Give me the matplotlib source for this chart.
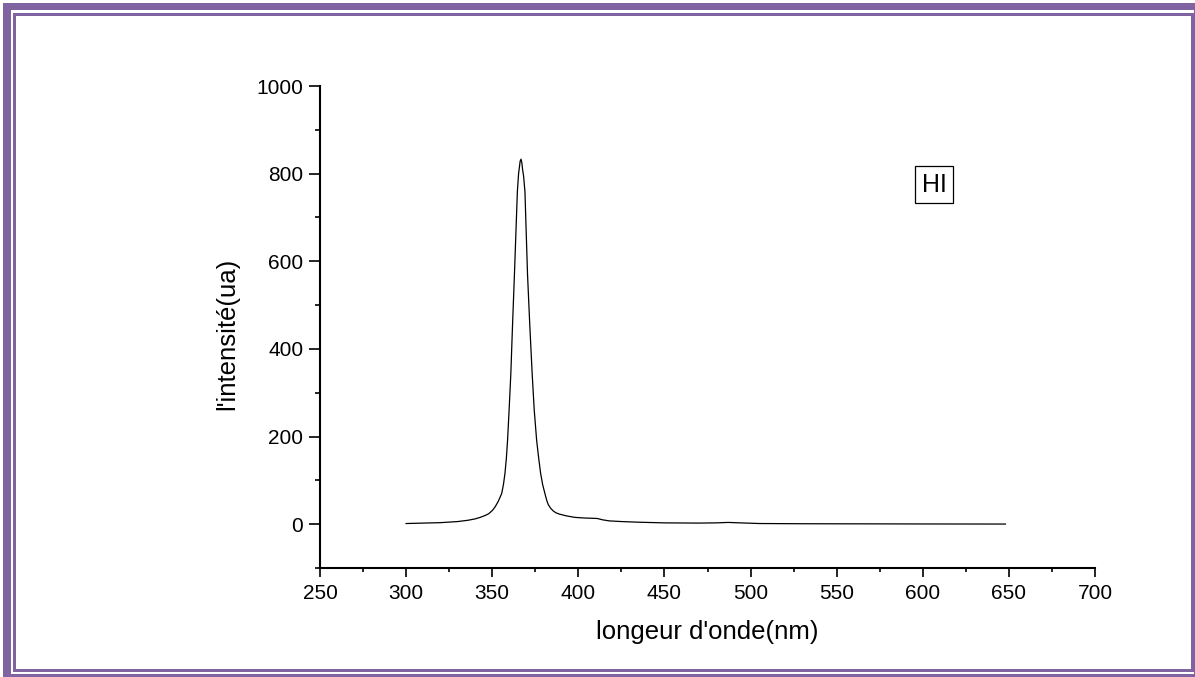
import matplotlib
matplotlib.use('Agg')
import matplotlib.pyplot as plt
from matplotlib.patches import Rectangle
from matplotlib.ticker import MultipleLocator

plt.rcParams['font.family'] = ['Liberation Sans', 'DejaVu Sans']

# spectre d'émission (longueur d'onde en nm, intensité en u.a.)
longueur = [300, 310, 320, 330, 336, 340, 343, 346, 348, 350, 351.6, 353.5,
            355.5, 356.5, 357.4, 358.2, 358.9, 359.8, 360.8, 361.8, 362.9,
            363.8, 364.6, 365.3, 365.8, 366.2, 366.7, 367.2, 367.6, 368.2,
            369, 369.7, 370.5, 371.8, 373.2, 374.4, 375.8, 377, 378.1, 379.3,
            380.6, 381.6, 382.5, 384, 385.5, 387, 389, 391, 393, 398, 404,
            408, 411, 414, 418, 425, 435, 450, 470, 480, 487, 494, 505, 530,
            560, 600, 648]
intensite = [1.5, 2.5, 3.5, 6, 9, 12, 15.5, 20, 24, 31, 39, 52,
             70, 90, 116, 150, 191, 260, 343, 455, 570,
             670, 759, 800, 815, 828, 833, 825, 810, 795,
             759, 670, 570, 455, 343, 260, 191, 150, 116, 90,
             70, 55, 45, 36, 30, 26, 23, 21, 19, 15.5, 14,
             13.5, 13, 10, 7.5, 6, 4.5, 3, 2.5, 3, 4, 3, 1.5, 1,
             0.8, 0.5, 0.3]

W, H = 1195, 677
fig = plt.figure(figsize=(W / 100, H / 100), dpi=100)

violet = '#8064A2'


def cadre(x, y, w, h):
    # rectangle plein donné en pixels depuis le coin haut-gauche
    fig.add_artist(Rectangle((x / W, 1 - (y + h) / H), w / W, h / H,
                             transform=fig.transFigure, color=violet, lw=0))


# bordure de page : trait épais extérieur + trait fin intérieur
cadre(3, 3, 8, 674)
cadre(3, 3, 1192, 7)
cadre(3, 674, 1192, 3)
cadre(1193.5, 3, 1.5, 674)
cadre(13, 13, 3, 659)
cadre(13, 13, 1180, 3)
cadre(13, 669, 1180, 3)
cadre(1190.5, 13, 3, 659)

ax = fig.add_axes([320 / W, (H - 568) / H, 775 / W, 482 / H])
ax.plot(longueur, intensite, color='black', lw=0.9)

ax.set_xlim(250, 700)
ax.set_ylim(-100, 1000)
ax.xaxis.set_major_locator(MultipleLocator(50))
ax.xaxis.set_minor_locator(MultipleLocator(25))
ax.yaxis.set_major_locator(MultipleLocator(200))
ax.yaxis.set_minor_locator(MultipleLocator(100))

for s in ['top', 'right']:
    ax.spines[s].set_visible(False)
for s in ['left', 'bottom']:
    ax.spines[s].set_linewidth(1.5)

ax.tick_params(axis='y', which='major', direction='out', length=8, width=1.2,
               pad=4, labelsize=15)
ax.tick_params(axis='y', which='minor', direction='out', length=3.6, width=1.2)
ax.tick_params(axis='x', which='major', direction='out', length=6.5, width=1.2,
               pad=5, labelsize=15)
ax.tick_params(axis='x', which='minor', direction='out', length=3, width=1.2)

ax.set_xlabel("longeur d'onde(nm)", fontsize=18.5, va='center')
ax.xaxis.set_label_coords(0.5, -0.133)
ax.set_ylabel("l'intensité(ua)", fontsize=18.5, va='center', ha='center')
ax.yaxis.set_label_coords(-0.12, 0.485)

ax.text(606.6, 775, 'HI', fontsize=18, ha='center', va='center',
        bbox=dict(boxstyle='square,pad=0.25', fc='white', ec='black', lw=0.9))

fig.savefig('out.png', dpi=100)
